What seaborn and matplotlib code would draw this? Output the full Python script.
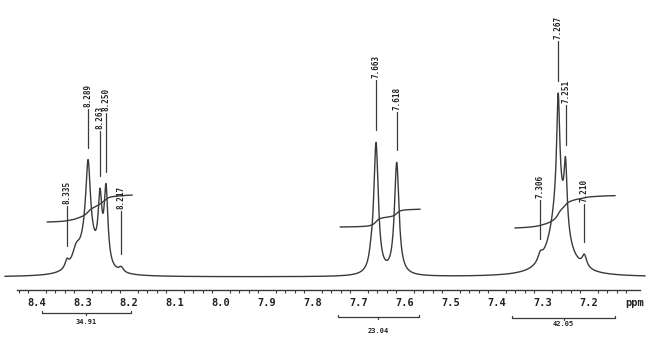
import numpy as np
import pandas as pd
import matplotlib
matplotlib.use("Agg")
import matplotlib.pyplot as plt
import seaborn as sns

# ---------------- data ----------------
# spectral components (centre ppm, amplitude, half width)
comp_ppm = [8.335, 8.315, 8.290, 8.289, 8.263, 8.250, 8.217,
            7.674, 7.663, 7.618,
            7.306, 7.267, 7.266, 7.251, 7.210]
comp_amp = [8, 15, 35, 77, 62, 76, 5,
            8, 131, 112,
            8, 108, 72, 64, 12]
comp_hwhm = [0.005, 0.010, 0.020, 0.006, 0.005, 0.005, 0.006,
             0.005, 0.006, 0.006,
             0.006, 0.004, 0.022, 0.004, 0.006]

# peak pick labels
label_ppm = [8.335, 8.289, 8.263, 8.250, 8.217, 7.663, 7.618, 7.306, 7.267, 7.251, 7.210]
stem_len = [40, 39, 45, 59, 43, 50, 38, 39, 40, 40, 38]

# integrals
integral_start = [8.378, 7.741, 7.361]
integral_end = [8.193, 7.567, 7.143]
integral_values = [34.91, 23.04, 42.05]
integral_offset = [55, 50, 49]

# integration brackets under the axis
bracket_start = [8.389, 7.746, 7.367]
bracket_end = [8.196, 7.570, 7.143]
bracket_y = [-36, -40, -41]
bracket_label_y = [-45, -54, -47]

# axis ticks
tick_values = [8.4, 8.3, 8.2, 8.1, 8.0, 7.9, 7.8, 7.7, 7.6, 7.5, 7.4, 7.3, 7.2, 7.1]
tick_labels = ['8.4', '8.3', '8.2', '8.1', '8.0', '7.9', '7.8', '7.7', '7.6', '7.5',
               '7.4', '7.3', '7.2', 'ppm']

# recorded spectral window
spec_start, spec_end = 8.470, 7.078


def spectrum(x):
    y = np.zeros_like(x)
    for c, a, w in zip(comp_ppm, comp_amp, comp_hwhm):
        y += a * w ** 2 / ((x - c) ** 2 + w ** 2)
    return y


# ---------------- figure ----------------
sns.set_style("white")
plt.rcParams['font.family'] = ['DejaVu Sans Mono', 'DejaVu Sans']

W, H = 654, 342
fig = plt.figure(figsize=(W / 100, H / 100), dpi=100)
ax = fig.add_axes([0, 0, 1, 1])
px_per_ppm = 460.0
x_left = 8.4 + 37 / px_per_ppm
x_right = x_left - W / px_per_ppm
ax.set_xlim(x_left, x_right)
ax.set_ylim(-65, 277)

line_col = '#3a3a3a'

x = np.linspace(spec_start, spec_end, 4000)
df = pd.DataFrame({'ppm': x, 'intensity': spectrum(x)})
sns.lineplot(data=df, x='ppm', y='intensity', ax=ax, color=line_col, lw=1.0,
             sort=False, legend=False)

# integral curves
for s, e, v, off in zip(integral_start, integral_end, integral_values, integral_offset):
    xi = np.linspace(s, e, 600)
    yi = spectrum(xi)
    cum = np.concatenate([[0], np.cumsum((yi[1:] + yi[:-1]) / 2)])
    cum = cum / cum[-1]
    ax.plot(xi, off + cum * v * 0.77, color=line_col, lw=1.0)

# peak labels
for p, L in zip(label_ppm, stem_len):
    base = float(spectrum(np.array([p]))[0]) + 12
    ax.plot([p, p], [base, base + L], color=line_col, lw=0.9)
    ax.text(p, base + L + 2, f"{p:.3f}", rotation=90, ha='center', va='bottom',
            fontsize=5.5, fontweight='bold', color='#222222')

# axis spine
for s in ['top', 'right', 'left']:
    ax.spines[s].set_visible(False)
ax.spines['bottom'].set_position(('data', -13))
ax.spines['bottom'].set_bounds(8.4435, 7.089)
ax.spines['bottom'].set_color(line_col)
ax.spines['bottom'].set_linewidth(1.0)
ax.set_xticks(tick_values)
ax.set_xticklabels(tick_labels)
ax.set_xticks(np.round(np.arange(7.10, 8.441, 0.02), 2), minor=True)
ax.tick_params(axis='x', which='major', direction='out', length=4, width=1.0,
               color=line_col, pad=2, labelsize=7.5, labelcolor='#222222')
ax.tick_params(axis='x', which='minor', direction='out', length=2.2, width=0.8,
               color=line_col, bottom=True)
for t in ax.get_xticklabels():
    t.set_fontweight('bold')
ax.set_yticks([])
ax.set_xlabel('')
ax.set_ylabel('')

# brackets
for s, e, by, ly, v in zip(bracket_start, bracket_end, bracket_y, bracket_label_y, integral_values):
    ax.plot([s, s, e, e], [by + 2, by, by, by + 2], color=line_col, lw=0.9)
    m = (s + e) / 2
    ax.plot([m, m], [by, by - 2], color=line_col, lw=0.9)
    ax.text(m, ly, f"{v:.2f}", ha='center', va='center', fontsize=5,
            fontweight='bold', color='#222222')

fig.savefig('out.png', dpi=100)
